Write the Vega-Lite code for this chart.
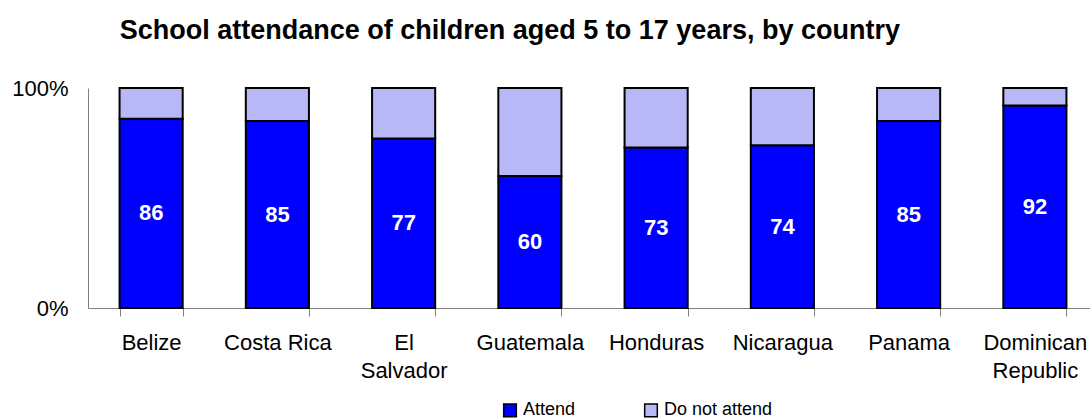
{
  "$schema": "https://vega.github.io/schema/vega-lite/v6.json",
  "width": 1010,
  "height": 220,
  "autosize": {"type": "none"},
  "padding": {"left": 88, "top": 88, "right": 0, "bottom": 111},
  "background": "white",
  "config": {
    "font": "Liberation Sans",
    "view": {"stroke": null},
    "axis": {"grid": false, "domainColor": "#808080", "tickColor": "#808080", "labelColor": "black", "labelFont": "Liberation Sans"}
  },
  "title": {
    "text": "School attendance of children aged 5 to 17 years, by country",
    "anchor": "start",
    "dx": 108,
    "offset": 32,
    "fontSize": 27,
    "fontWeight": "bold",
    "color": "black",
    "font": "Liberation Sans"
  },
  "data": {
    "values": [
      {"country": "Belize", "status": "Attend", "pct": 86, "ord": 1},
      {"country": "Belize", "status": "Do not attend", "pct": 14, "ord": 2},
      {"country": "Costa Rica", "status": "Attend", "pct": 85, "ord": 1},
      {"country": "Costa Rica", "status": "Do not attend", "pct": 15, "ord": 2},
      {"country": "El Salvador", "status": "Attend", "pct": 77, "ord": 1},
      {"country": "El Salvador", "status": "Do not attend", "pct": 23, "ord": 2},
      {"country": "Guatemala", "status": "Attend", "pct": 60, "ord": 1},
      {"country": "Guatemala", "status": "Do not attend", "pct": 40, "ord": 2},
      {"country": "Honduras", "status": "Attend", "pct": 73, "ord": 1},
      {"country": "Honduras", "status": "Do not attend", "pct": 27, "ord": 2},
      {"country": "Nicaragua", "status": "Attend", "pct": 74, "ord": 1},
      {"country": "Nicaragua", "status": "Do not attend", "pct": 26, "ord": 2},
      {"country": "Panama", "status": "Attend", "pct": 85, "ord": 1},
      {"country": "Panama", "status": "Do not attend", "pct": 15, "ord": 2},
      {"country": "Dominican Republic", "status": "Attend", "pct": 92, "ord": 1},
      {"country": "Dominican Republic", "status": "Do not attend", "pct": 8, "ord": 2}
    ]
  },
  "encoding": {
    "x": {
      "field": "country",
      "type": "nominal",
      "sort": null,
      "scale": {"paddingInner": 0.5, "paddingOuter": 0.25},
      "axis": {
        "title": null,
        "labelAngle": 0,
        "labelFontSize": 22,
        "labelPadding": 16,
        "tickSize": 8,
        "tickBand": "extent",
        "labelLineHeight": 28,
        "labelBaseline": "top",
        "labelExpr": "datum.value == 'El Salvador' ? ['El', 'Salvador'] : datum.value == 'Dominican Republic' ? ['Dominican', 'Republic'] : datum.label"
      }
    }
  },
  "layer": [
    {
      "mark": {"type": "bar", "stroke": "black", "strokeWidth": 2},
      "encoding": {
        "y": {
          "field": "pct",
          "type": "quantitative",
          "stack": "zero",
          "scale": {"domain": [0, 100]},
          "axis": {
            "title": null,
            "values": [0, 100],
            "labelExpr": "datum.value + '%'",
            "labelFontSize": 22,
            "tickSize": 0,
            "labelPadding": 20
          }
        },
        "order": {"field": "ord", "type": "quantitative"},
        "color": {
          "field": "status",
          "type": "nominal",
          "scale": {"domain": ["Attend", "Do not attend"], "range": ["#0000ff", "#b8b8f6"]},
          "legend": {
            "title": null,
            "orient": "none",
            "direction": "horizontal",
            "legendX": 413,
            "legendY": 313,
            "symbolType": "square",
            "symbolSize": 160,
            "symbolStrokeColor": "black",
            "symbolStrokeWidth": 1.5,
            "symbolOpacity": 1,
            "labelFontSize": 18,
            "labelColor": "black",
            "labelOffset": 4,
            "columnPadding": 65
          }
        }
      }
    },
    {
      "transform": [
        {"filter": "datum.status == 'Attend'"},
        {"calculate": "datum.pct / 2", "as": "mid"}
      ],
      "mark": {"type": "text", "color": "white", "fontWeight": "bold", "fontSize": 22, "baseline": "middle"},
      "encoding": {
        "y": {"field": "mid", "type": "quantitative"},
        "text": {"field": "pct", "type": "quantitative"}
      }
    }
  ]
}
